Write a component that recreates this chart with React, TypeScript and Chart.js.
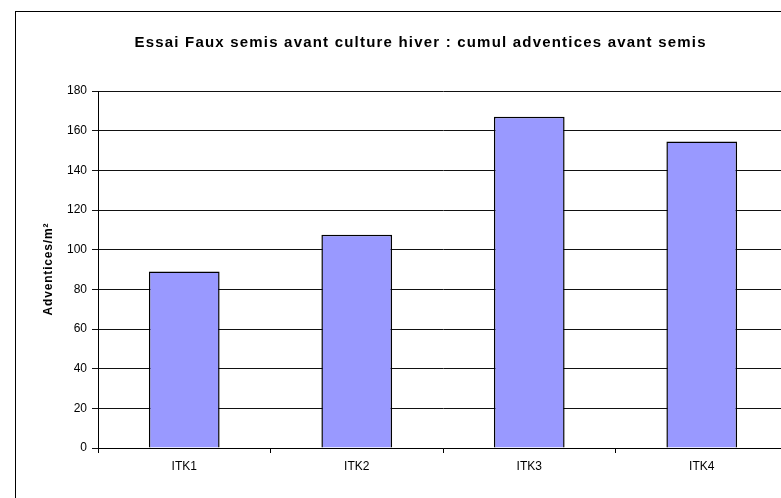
import React, { useEffect, useRef } from "react";
import { Chart, registerables } from "chart.js";

Chart.register(...registerables);

const categories = ["ITK1", "ITK2", "ITK3", "ITK4"];
const values = [89, 107.5, 167, 154.5];
const yTicksMin = 0;
const yTicksMax = 180;
const yTickStep = 20;
const titleText = "Essai Faux semis avant culture hiver : cumul adventices avant semis";
const yAxisTitle = "Adventices/m²";

const CANVAS_W = 840;
const CANVAS_H = 498;

const decorPlugin = {
  id: "decor",
  beforeDraw(chart: any) {
    const ctx = chart.ctx;
    ctx.save();
    ctx.fillStyle = "#ffffff";
    ctx.fillRect(0, 0, chart.width, chart.height);
    ctx.strokeStyle = "#000000";
    ctx.lineWidth = 1;
    ctx.strokeRect(15.5, 11.5, 810, 600);
    ctx.restore();
  },
  afterDraw(chart: any) {
    const ctx = chart.ctx;
    ctx.save();
    ctx.fillStyle = "#000000";
    // title
    ctx.font = "bold 15px Arial, 'Liberation Sans', sans-serif";
    (ctx as any).letterSpacing = "0px";
    const natural = ctx.measureText(titleText).width;
    const target = 571;
    const ls = (target - natural) / (titleText.length - 1);
    (ctx as any).letterSpacing = ls + "px";
    ctx.textAlign = "left";
    ctx.textBaseline = "alphabetic";
    ctx.fillText(titleText, 420 - target / 2, 47);
    // y axis title
    ctx.font = "bold 12px Arial, 'Liberation Sans', sans-serif";
    (ctx as any).letterSpacing = "0px";
    const yNat = ctx.measureText(yAxisTitle).width;
    const yTarget = 92;
    (ctx as any).letterSpacing = (yTarget - yNat) / (yAxisTitle.length - 1) + "px";
    const area = chart.chartArea;
    ctx.translate(49, (area.top + area.bottom) / 2);
    ctx.rotate(-Math.PI / 2);
    ctx.textAlign = "left";
    ctx.textBaseline = "middle";
    ctx.fillText(yAxisTitle, -yTarget / 2, 0);
    ctx.restore();
  },
};

export default function App() {
  const ref = useRef<HTMLCanvasElement>(null);
  useEffect(() => {
    if (!ref.current) return;
    const chart = new Chart(ref.current, {
      type: "bar",
      data: {
        labels: categories,
        datasets: [
          {
            data: values,
            backgroundColor: "#9999FF",
            borderColor: "#000000",
            borderWidth: 1.5,
            barPercentage: 0.41,
            categoryPercentage: 1,
          },
        ],
      },
      options: {
        responsive: false,
        animation: false,
        devicePixelRatio: 1,
        layout: { padding: { left: 0, right: 52, top: 91, bottom: 0 } },
        plugins: {
          legend: { display: false },
          title: { display: false },
          tooltip: { enabled: false },
        },
        scales: {
          x: {
            grid: {
              offset: true,
              drawOnChartArea: false,
              drawTicks: true,
              tickLength: 5,
              color: "#000000",
            },
            border: { display: true, color: "#000000" },
            ticks: {
              color: "#000000",
              font: { family: "Arial, 'Liberation Sans', sans-serif", size: 12 },
              padding: 6,
            },
            afterFit(scale: any) {
              scale.height = 50;
            },
          },
          y: {
            min: yTicksMin,
            max: yTicksMax,
            ticks: {
              stepSize: yTickStep,
              color: "#000000",
              font: { family: "Arial, 'Liberation Sans', sans-serif", size: 12 },
              padding: 5,
            },
            grid: {
              color: "#111111",
              drawTicks: true,
              tickLength: 6,
            },
            border: { display: true, color: "#000000" },
            afterFit(scale: any) {
              scale.width = 98;
            },
          },
        },
      },
      plugins: [decorPlugin],
    });
    return () => chart.destroy();
  }, []);
  return (
    <div
      style={{
        position: "absolute",
        left: 0,
        top: 0,
        width: 781,
        height: 498,
        overflow: "hidden",
        background: "#fff",
      }}
    >
      <canvas ref={ref} width={CANVAS_W} height={CANVAS_H} style={{ width: CANVAS_W, height: CANVAS_H, display: "block" }} />
    </div>
  );
}
